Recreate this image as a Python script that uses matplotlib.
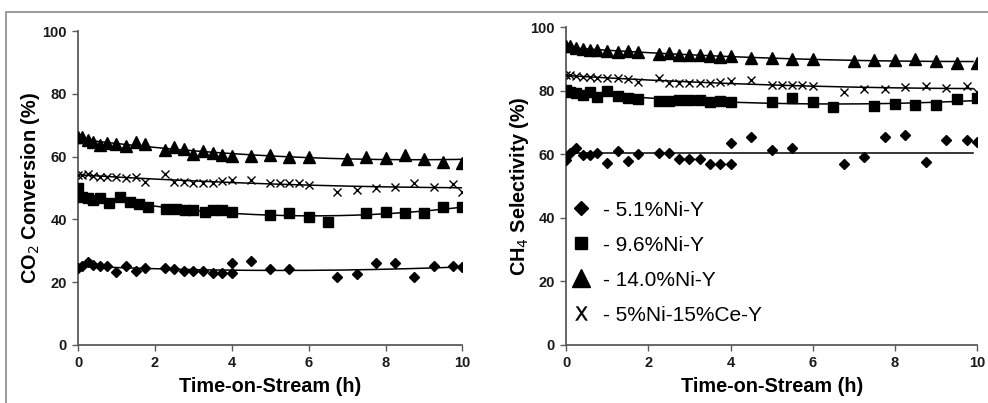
import numpy as np
import matplotlib.pyplot as plt
from matplotlib.lines import Line2D
from matplotlib.patches import Rectangle

plt.rcParams['font.family'] = ['Liberation Sans', 'DejaVu Sans']

# ---- CO2 conversion (left panel) ----
t_tri = [0, 0.1, 0.25, 0.4, 0.57, 0.75, 1.0, 1.25, 1.5, 1.75, 2.25, 2.5, 2.75, 3.0, 3.25, 3.5, 3.75, 4.0,
         4.5, 5.0, 5.5, 6.0, 7.0, 7.5, 8.0, 8.5, 9.0, 9.5, 10.0]
co2_tri = [66.1, 66.3, 65.3, 64.8, 63.7, 64.2, 64.0, 63.4, 64.5, 64.0, 62.1, 63.0, 62.3, 60.8, 61.8, 61.0, 60.5, 60.3,
           60.2, 60.6, 60.0, 60.0, 59.1, 59.8, 59.4, 60.6, 59.1, 58.4, 58.1]

t_sq = [0, 0.1, 0.25, 0.4, 0.57, 0.8, 1.1, 1.35, 1.58, 1.82, 2.3, 2.55, 2.78, 3.0, 3.3, 3.5, 3.75, 4.0,
        5.0, 5.5, 6.0, 6.5, 7.5, 8.0, 8.5, 9.0, 9.5, 10.0]
co2_sq = [49.9, 47.2, 46.7, 46.2, 46.7, 45.3, 47.2, 45.6, 44.8, 43.8, 43.2, 43.2, 43.0, 43.0, 42.3, 42.9, 42.9, 42.3,
          41.4, 42.1, 40.9, 39.3, 41.9, 42.5, 41.9, 42.1, 43.8, 43.8]

t_x = [0, 0.1, 0.25, 0.4, 0.57, 0.75, 1.0, 1.25, 1.5, 1.75, 2.25, 2.5, 2.75, 3.0, 3.25, 3.5, 3.75, 4.0,
       4.5, 5.0, 5.25, 5.5, 5.75, 6.0, 6.75, 7.25, 7.75, 8.25, 8.75, 9.25, 9.75, 10.0]
co2_x = [54.1, 54.1, 54.4, 53.8, 53.6, 53.6, 53.6, 53.3, 53.6, 52.0, 54.4, 52.0, 51.8, 51.7, 51.7, 51.5, 52.2, 52.5,
         52.5, 51.5, 51.5, 51.5, 51.5, 51.0, 48.8, 49.4, 49.9, 50.4, 51.5, 50.4, 51.3, 48.8]

t_d = [0, 0.1, 0.25, 0.4, 0.57, 0.75, 1.0, 1.25, 1.5, 1.75, 2.25, 2.5, 2.75, 3.0, 3.25, 3.5, 3.75, 4.0, 4.0,
       4.5, 5.0, 5.5, 6.75, 7.25, 7.75, 8.25, 8.75, 9.25, 9.75, 10.0]
co2_d = [24.6, 25.0, 26.3, 25.6, 25.0, 25.0, 23.3, 25.1, 23.5, 24.6, 24.4, 24.2, 23.5, 23.5, 23.5, 22.8, 22.8, 22.8, 26.0,
         26.6, 24.2, 24.2, 21.8, 22.6, 26.0, 26.0, 21.8, 25.1, 25.0, 24.8]

# ---- CH4 selectivity (right panel) ----
ch4_tri = [94.0, 94.0, 93.3, 93.0, 92.8, 92.8, 92.5, 92.2, 92.5, 92.0, 91.5, 91.7, 91.2, 91.2, 91.2, 91.0, 90.7, 90.9,
           90.2, 90.4, 89.8, 89.8, 89.4, 89.6, 89.6, 90.0, 89.3, 88.8, 88.6]

t_sq2 = [0, 0.1, 0.25, 0.4, 0.57, 0.75, 1.0, 1.25, 1.5, 1.75, 2.25, 2.5, 2.75, 3.0, 3.25, 3.5, 3.75, 4.0,
         5.0, 5.5, 6.0, 6.5, 7.5, 8.0, 8.5, 9.0, 9.5, 10.0]
ch4_sq = [80.2, 79.7, 79.1, 78.6, 79.7, 78.1, 80.0, 78.3, 77.8, 77.3, 76.8, 76.8, 77.0, 77.0, 77.0, 76.5, 76.8, 76.5,
          76.5, 77.6, 76.5, 74.7, 75.1, 75.7, 75.5, 75.5, 77.3, 77.6]

ch4_x = [85.0, 84.8, 84.6, 84.4, 84.2, 84.0, 84.0, 83.9, 83.8, 82.8, 83.9, 82.5, 82.3, 82.3, 82.3, 82.3, 82.8, 83.0,
         83.3, 81.7, 81.7, 81.7, 81.7, 81.5, 79.7, 80.5, 80.5, 81.2, 81.5, 80.7, 81.5, 79.7]

ch4_d = [58.2, 60.3, 61.8, 59.7, 59.7, 60.3, 57.1, 61.1, 57.9, 60.1, 60.3, 60.3, 58.5, 58.5, 58.5, 57.0, 57.0, 57.0, 63.4,
         65.3, 61.3, 61.8, 57.0, 59.0, 65.5, 66.0, 57.6, 64.4, 64.4, 63.9]

labels = ['- 5.1%Ni-Y', '- 9.6%Ni-Y', '- 14.0%Ni-Y', '- 5%Ni-15%Ce-Y']
yticks = [0, 20, 40, 60, 80, 100]
xticks = [0, 2, 4, 6, 8, 10]

fig = plt.figure(figsize=(9.88, 4.03), dpi=100)
fig.patches.append(Rectangle((0.006, -0.1), 1.2, 1.07, transform=fig.transFigure,
                             fill=False, edgecolor='#8a8a8a', lw=1.2))

ax1 = fig.add_axes([0.079, 0.144, 0.389, 0.779])
ax2 = fig.add_axes([0.573, 0.144, 0.416, 0.789])


def trend(ax, t, v, deg, tmax):
    c = np.polyfit(t, v, deg)
    tt = np.linspace(0, tmax, 200)
    ax.plot(tt, np.polyval(c, tt), color='black', lw=1.1, zorder=2)


def panel(ax, series, ylabel, tmax):
    for t, v, m, ms, deg in series:
        if m == 'x':
            ax.plot(t, v, ls='none', marker='x', ms=6, mew=1.0, color='black', zorder=3)
        else:
            ax.plot(t, v, ls='none', marker=m, ms=ms, color='black', mec='black', zorder=3)
        trend(ax, t, v, deg, tmax)
    ax.set_xlim(0, 10)
    ax.set_ylim(0, 100)
    ax.set_xticks(xticks)
    ax.set_yticks(yticks)
    for s in ['top', 'right']:
        ax.spines[s].set_visible(False)
    for s in ['left', 'bottom']:
        ax.spines[s].set_color('#5a5a5a')
        ax.spines[s].set_linewidth(1.3)
    ax.tick_params(direction='out', length=4, width=1, color='#5a5a5a', labelsize=10.5, pad=4)
    for lab in ax.get_xticklabels() + ax.get_yticklabels():
        lab.set_fontweight('bold')
        lab.set_color('#1a1a1a')
    ax.set_xlabel('Time-on-Stream (h)', fontsize=14.3, fontweight='bold', labelpad=5)
    ax.set_ylabel(ylabel, fontsize=14.3, fontweight='bold', labelpad=0)
    ax.patch.set_alpha(0)


panel(ax1, [(t_d, co2_d, 'D', 5.5, 2), (t_sq, co2_sq, 's', 6.5, 2),
            (t_tri, co2_tri, '^', 8, 2), (t_x, co2_x, 'x', 6, 2)],
      'CO$_2$ Conversion (%)', 10)
panel(ax2, [(t_d, ch4_d, 'D', 5.5, 0), (t_sq2, ch4_sq, 's', 6.5, 2),
            (t_tri, ch4_tri, '^', 8, 2), (t_x, ch4_x, 'x', 6, 2)],
      'CH$_4$ Selectivity (%)', 9.9)

handles = [Line2D([], [], ls='none', marker='D', ms=7, color='black'),
           Line2D([], [], ls='none', marker='s', ms=9, color='black'),
           Line2D([], [], ls='none', marker='^', ms=13, color='black'),
           Line2D([], [], ls='none', marker='$\\mathsf{X}$', ms=10, mew=0.3, color='black')]
ax2.legend(handles, labels, loc='lower left', bbox_to_anchor=(-0.04, 0.005), frameon=False,
           fontsize=15, handlelength=1.2, handletextpad=0.45, labelspacing=0.77)

fig.savefig('out.png', dpi=100)
